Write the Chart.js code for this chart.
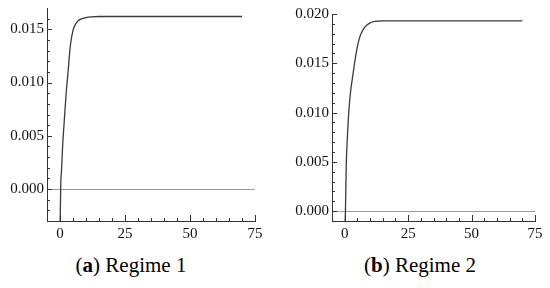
<!DOCTYPE html>
<html>
<head>
<meta charset="utf-8">
<script src="https://cdn.jsdelivr.net/npm/chart.js@4/dist/chart.umd.min.js"></script>
<style>
  body { margin: 0; background: #fff; }
  #wrap { position: relative; width: 550px; height: 288px; overflow: hidden; }
  canvas { position: absolute; top: 0; }
  .cap { position: absolute; top: 255px; width: 200px; text-align: center;
         font-family: "Liberation Serif", serif;
         font-size: 21px; line-height: 21px; color: #000; }
</style>
</head>
<body>
<div id="wrap">
  <canvas id="regime1" width="275" height="245" style="left:0"></canvas>
  <canvas id="regime2" width="275" height="245" style="left:275px"></canvas>
  <div class="cap" style="left:31px">(<b>a</b>) Regime 1</div>
  <div class="cap" style="left:320px">(<b>b</b>) Regime 2</div>
</div>
<script>
// time axis, shared by both panels
var xTicks = [0, 25, 50, 75];
var xMinor = [5, 10, 15, 20, 30, 35, 40, 45, 55, 60, 65, 70];

// Regime 1 curve
var t1 = [0, 0.3, 0.6, 1, 1.5, 2, 2.5, 3, 3.5, 4, 5, 6, 7, 8, 10, 12, 15, 20, 30, 40, 50, 60, 70];
var v1 = [-0.004, 0.0005, 0.0018, 0.0040, 0.0059, 0.0077, 0.0094, 0.0107, 0.0122, 0.0135, 0.0149,
          0.0155, 0.0158, 0.01595, 0.0161, 0.01617, 0.0162, 0.0162, 0.0162, 0.0162, 0.0162, 0.0162, 0.0162];
var y1Ticks = [0.000, 0.005, 0.010, 0.015];
var y1Minor = [-0.002, -0.001, 0.001, 0.002, 0.003, 0.004, 0.006, 0.007, 0.008, 0.009,
               0.011, 0.012, 0.013, 0.014, 0.016];

// Regime 2 curve
var t2 = [0, 0.3, 0.6, 1, 1.5, 2, 2.5, 3, 3.5, 4, 5, 6, 7, 8, 10, 12, 15, 20, 30, 40, 50, 60, 70];
var v2 = [-0.002, 0.0, 0.0045, 0.0072, 0.0096, 0.0113, 0.0125, 0.0134, 0.0143, 0.0152, 0.0167,
          0.0177, 0.0183, 0.0187, 0.0191, 0.01925, 0.0193, 0.0193, 0.0193, 0.0193, 0.0193, 0.0193, 0.0193];
var y2Ticks = [0.000, 0.005, 0.010, 0.015, 0.020];
var y2Minor = [0.001, 0.002, 0.003, 0.004, 0.006, 0.007, 0.008, 0.009,
               0.011, 0.012, 0.013, 0.014, 0.016, 0.017, 0.018, 0.019];

Chart.defaults.font.family = '"Liberation Serif", serif';
Chart.defaults.font.size = 15;
Chart.defaults.color = '#111';

// mathematica style ticks pointing into the plot
var insideTicks = {
    id: 'insideTicks',
    afterDraw: function(chart, args, opts) {
        var ctx = chart.ctx, a = chart.chartArea, x = chart.scales.x, y = chart.scales.y;
        ctx.save();
        ctx.strokeStyle = '#333';
        ctx.lineWidth = 1;
        ctx.beginPath();
        function xt(v, len) {
            var px = Math.round(x.getPixelForValue(v)) + 0.5;
            ctx.moveTo(px, a.bottom); ctx.lineTo(px, a.bottom - len);
        }
        function yt(v, len) {
            var py = Math.round(y.getPixelForValue(v)) + 0.5;
            ctx.moveTo(a.left, py); ctx.lineTo(a.left + len, py);
        }
        opts.xMajor.forEach(function(v) { xt(v, 6); });
        opts.xMinor.forEach(function(v) { xt(v, 3); });
        opts.yMajor.forEach(function(v) { yt(v, 5); });
        opts.yMinor.forEach(function(v) { yt(v, 3); });
        ctx.stroke();
        ctx.restore();
    }
};

function makePanel(id, ts, vs, yMin, yMax, yTicks, yMinor, yWidth, pad) {
    var pts = ts.map(function(t, i) { return {x: t, y: vs[i]}; });
    return new Chart(document.getElementById(id), {
        type: 'line',
        data: {
            datasets: [{
                data: pts,
                borderColor: '#3a3a3a',
                borderWidth: 1.3,
                pointRadius: 0,
                cubicInterpolationMode: 'monotone'
            }]
        },
        options: {
            responsive: false,
            animation: false,
            devicePixelRatio: 1,
            layout: { padding: pad },
            plugins: {
                legend: { display: false },
                tooltip: { enabled: false },
                insideTicks: { xMajor: xTicks, xMinor: xMinor, yMajor: yTicks, yMinor: yMinor }
            },
            scales: {
                x: {
                    type: 'linear', min: -5, max: 75,
                    grid: { display: false, drawTicks: false },
                    border: { display: true, color: '#333', width: 1 },
                    ticks: { padding: 4, maxRotation: 0 },
                    afterBuildTicks: function(s) { s.ticks = xTicks.map(function(v) { return {value: v}; }); },
                    afterFit: function(s) { s.height = 24; s.paddingLeft = 0; s.paddingRight = 0; }
                },
                y: {
                    type: 'linear', min: yMin, max: yMax,
                    grid: {
                        drawTicks: false,
                        color: function(c) { return c.tick && c.tick.value === 0 ? '#9a9a9a' : 'rgba(0,0,0,0)'; }
                    },
                    border: { display: true, color: '#333', width: 1 },
                    ticks: { padding: 3, callback: function(v) { return v.toFixed(3); } },
                    afterBuildTicks: function(s) { s.ticks = yTicks.map(function(v) { return {value: v}; }); },
                    afterFit: function(s) { s.width = yWidth; s.paddingTop = 0; s.paddingBottom = 0; }
                }
            }
        },
        plugins: [insideTicks]
    });
}

makePanel('regime1', t1, v1, -0.003, 0.017, y1Ticks, y1Minor, 47, {left: 0, top: 8, right: 20, bottom: 0});
makePanel('regime2', t2, v2, -0.001, 0.020, y2Ticks, y2Minor, 57, {left: 0, top: 14, right: 15, bottom: 0});
</script>
</body>
</html>
